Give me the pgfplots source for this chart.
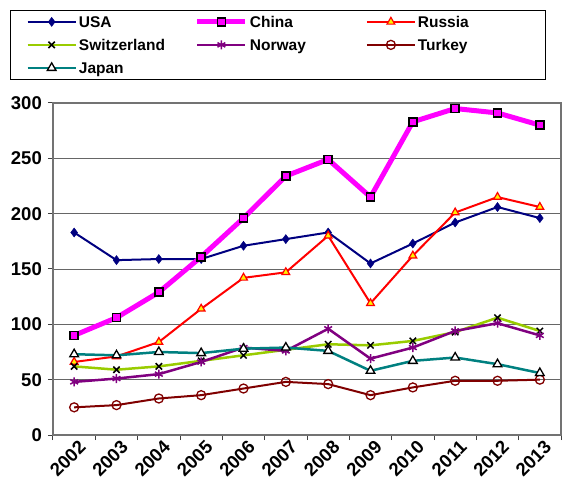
\documentclass[border=0pt]{standalone}
\usepackage{pgfplots}
\pgfplotsset{compat=1.18}
\usepackage{fontspec}
\setmainfont{Liberation Sans}

\definecolor{usa}{RGB}{0,0,128}
\definecolor{china}{RGB}{255,0,255}
\definecolor{russia}{RGB}{255,0,0}
\definecolor{swiss}{RGB}{153,204,0}
\definecolor{norway}{RGB}{128,0,128}
\definecolor{turkey}{RGB}{128,0,0}
\definecolor{japan}{RGB}{0,128,128}

\pgfplotstableread{
x    usa  china russia swiss norway turkey japan
0.5  183  90    66     62    48     25     73
1.5  158  106   71     59    51     27     72
2.5  159  129   84     62    55     33     75
3.5  159  161   114    67    66     36     74
4.5  171  196   142    72    79     42     78
5.5  177  234   147    77    76     48     79
6.5  183  249   180    82    96     46     76
7.5  155  215   119    81    69     36     58
8.5  173  283   162    85    79     43     67
9.5  192  295   201    93    94     49     70
10.5 206  291   215    106   101    49     64
11.5 196  280   206    94    90     50     56
}\datatable

\newcommand{\lentry}[1]{\makebox[110bp][l]{#1}}

\begin{document}
\begin{tikzpicture}
\useasboundingbox (-53bp,-55bp) rectangle (510bp,435bp);
\begin{axis}[
  scale only axis,
  width=508bp, height=332bp,
  xmin=0, xmax=12, ymin=0, ymax=300,
  xtick={0.5,1.5,...,11.5},
  xticklabels={2002,2003,2004,2005,2006,2007,2008,2009,2010,2011,2012,2013},
  minor xtick={0,1,...,12},
  ytick={0,50,...,300},
  major x tick style={draw=none},
  tick align=outside,
  major tick length=5bp,
  minor tick length=5bp,
  every tick/.style={black!75, line width=1bp},
  xtick pos=bottom, ytick pos=left,
  ymajorgrids,
  major grid style={black!60, line width=0.9bp},
  axis line style={black!55, line width=1.3bp},
  /pgf/number format/assume math mode=true,
  ticklabel style={font=\fontsize{18.5bp}{21bp}\selectfont\bfseries},
  xticklabel style={rotate=45, anchor=north east, inner sep=1bp, xshift=4bp, yshift=-1bp},
  yticklabel style={inner sep=6bp},
  legend columns=3,
  legend cell align=left,
  legend style={
    at={(-0.0846,1.2801)}, anchor=north west,
    draw=black, line width=0.8bp,
    font=\fontsize{15.5bp}{18bp}\selectfont\bfseries,
    nodes={text height=11bp, text depth=0bp},
    inner xsep=16bp, inner ysep=4bp,
    row sep=8bp,
    /tikz/every even column/.append style={column sep=4bp},
  },
  legend image code/.code={
    \draw[mark repeat=2, mark phase=2, #1]
      plot coordinates {(0bp,0bp) (24bp,0bp) (48bp,0bp)};
  },
]
\addplot[usa, line width=2bp, mark=diamond*, mark size=4.5bp,
  mark options={fill=usa, draw=usa, line width=0.5bp}]
  table[x=x, y=usa] {\datatable};
\addlegendentry{\lentry{USA}}
\addplot[china, line width=5bp, mark=square*, mark size=4bp,
  mark options={fill=china, draw=black, line width=1.5bp}]
  table[x=x, y=china] {\datatable};
\addlegendentry{\lentry{China}}
\addplot[russia, line width=2bp, mark=triangle*, mark size=4.5bp,
  mark options={fill=yellow, draw=russia, line width=1.2bp}]
  table[x=x, y=russia] {\datatable};
\addlegendentry{\lentry{Russia}}
\addplot[swiss, line width=2.5bp, mark=x, mark size=4.5bp,
  mark options={draw=black, line width=1.5bp}]
  table[x=x, y=swiss] {\datatable};
\addlegendentry{\lentry{Switzerland}}
\addplot[norway, line width=2.5bp, mark=asterisk, mark size=4.5bp,
  mark options={draw=norway, line width=1.5bp}]
  table[x=x, y=norway] {\datatable};
\addlegendentry{\lentry{Norway}}
\addplot[turkey, line width=2bp, mark=o, mark size=4.5bp,
  mark options={fill=white, draw=turkey, line width=1.3bp}]
  table[x=x, y=turkey] {\datatable};
\addlegendentry{\lentry{Turkey}}
\addplot[japan, line width=2.5bp, mark=triangle*, mark size=5bp,
  mark options={fill=white, draw=black, line width=1.3bp}]
  table[x=x, y=japan] {\datatable};
\addlegendentry{\lentry{Japan}}
\end{axis}
\end{tikzpicture}
\end{document}
